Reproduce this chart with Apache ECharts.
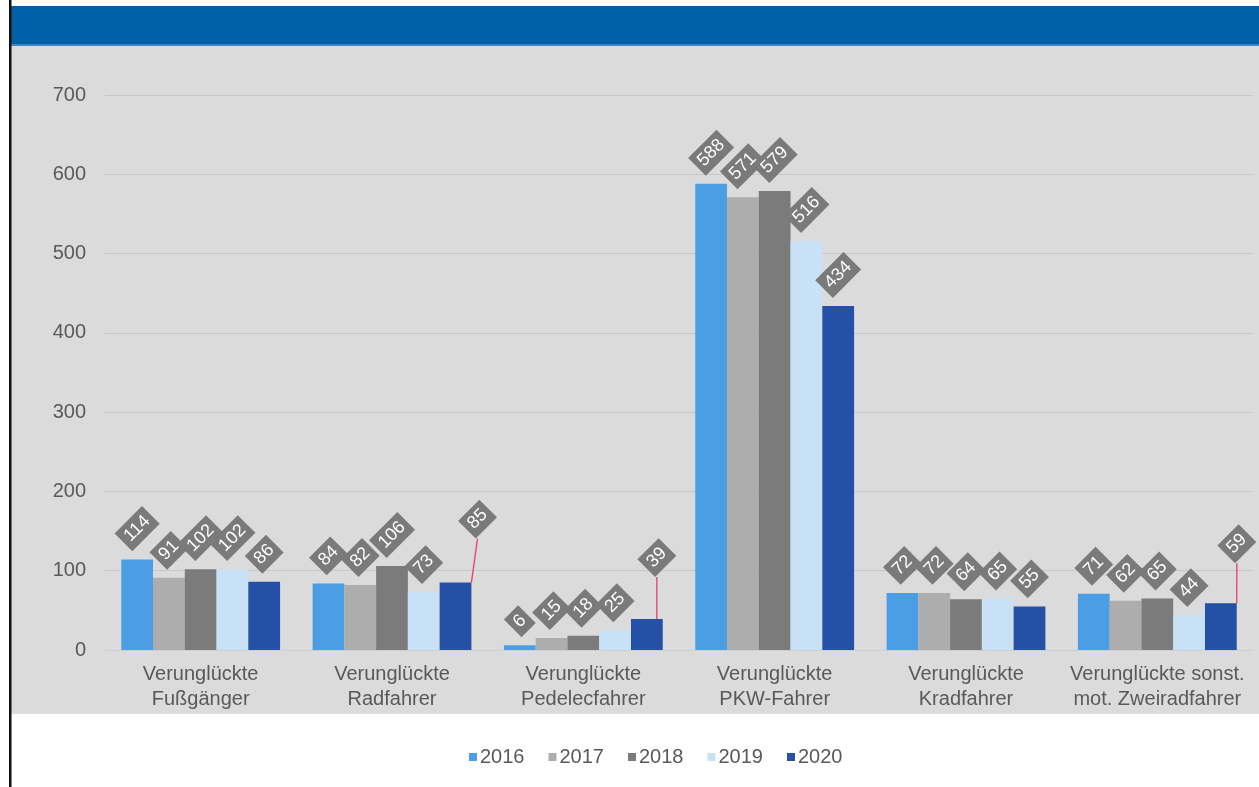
<!DOCTYPE html>
<html>
<head>
<meta charset="utf-8">
<script src="https://cdn.jsdelivr.net/npm/echarts@6/dist/echarts.min.js"></script>
<style>
html,body{margin:0;padding:0;background:#fff;}
#c{width:1259px;height:787px;}
</style>
</head>
<body>
<div id="c"></div>
<script>
const categories = ['Verunglückte\nFußgänger', 'Verunglückte\nRadfahrer', 'Verunglückte\nPedelecfahrer', 'Verunglückte\nPKW-Fahrer', 'Verunglückte\nKradfahrer', 'Verunglückte sonst.\nmot. Zweiradfahrer'];
const years = ['2016', '2017', '2018', '2019', '2020'];
const v2016 = [114, 84, 6, 588, 72, 71];
const v2017 = [91, 82, 15, 571, 72, 62];
const v2018 = [102, 106, 18, 579, 64, 65];
const v2019 = [102, 73, 25, 516, 65, 44];
const v2020 = [86, 85, 39, 434, 55, 59];
const yTicks = [0, 100, 200, 300, 400, 500, 600, 700];

const seriesValues = [v2016, v2017, v2018, v2019, v2020];
const colors = ['#4c9ee4', '#adadad', '#7b7b7b', '#c9e1f6', '#2450a5'];
const FONT = 'Liberation Sans, Arial, sans-serif';
// screen-space shifts for crowded labels (drawn with guide lines): key = seriesIndex-dataIndex
const leaderShift = { '4-1': [22, -36], '4-2': [10, -34], '4-5': [16, -32] };
const ROT = 45 * Math.PI / 180;
// label dx/dy are applied in the rotated label frame, so convert screen offsets
function toLocal(s) {
  const c = Math.cos(ROT), n = Math.sin(ROT);
  return { dx: s[0] * c - s[1] * n, dy: s[0] * n + s[1] * c };
}

const chart = echarts.init(document.getElementById('c'), null, { renderer: 'canvas' });

const series = seriesValues.map((vals, si) => ({
  name: years[si],
  type: 'bar',
  barGap: '0%',
  barCategoryGap: '17%',
  itemStyle: { color: colors[si] },
  label: {
    show: true,
    position: 'top',
    rotate: 45,
    align: 'center',
    verticalAlign: 'middle',
    color: '#ffffff',
    fontFamily: FONT,
    fontSize: 18,
    backgroundColor: '#7a7a7a',
    padding: [4, 5, 3, 5]
  },
  labelLine: { show: false, lineStyle: { color: '#e3406a', width: 1.3 } },
  labelLayout: function (p) {
    const s = leaderShift[p.seriesIndex + '-' + p.dataIndex];
    return s ? toLocal(s) : {};
  },
  data: vals.map((v, di) => {
    const item = { value: v, label: { distance: 20.5 + 3.5 * String(v).length } };
    if (leaderShift[si + '-' + di]) item.labelLine = { show: true };
    return item;
  })
}));

chart.setOption({
  animation: false,
  backgroundColor: '#ffffff',
  graphic: [
    { type: 'rect', z: -10, shape: { x: 11, y: 46, width: 1248, height: 668 }, style: { fill: '#dbdbdb' }, silent: true },
    { type: 'rect', z: -10, shape: { x: 11, y: 6, width: 1248, height: 39 }, style: { fill: '#005fa6' }, silent: true },
    { type: 'rect', z: -10, shape: { x: 11, y: 44, width: 1248, height: 2 }, style: { fill: '#3f86c2' }, silent: true },
    { type: 'rect', z: -10, shape: { x: 9, y: 0, width: 2.5, height: 787 }, style: { fill: '#111111' }, silent: true }
  ],
  grid: { left: 105, right: 6, top: 95, bottom: 137, containLabel: false },
  legend: {
    data: years,
    left: 464,
    top: 742,
    icon: 'rect',
    itemWidth: 8,
    itemHeight: 8,
    itemGap: 24,
    textStyle: { color: '#595959', fontSize: 20, fontFamily: FONT, padding: [0, 0, 0, -2] }
  },
  xAxis: {
    type: 'category',
    data: categories,
    axisTick: { show: false },
    axisLine: { show: true, lineStyle: { color: '#cfcfcf', width: 1 } },
    axisLabel: {
      color: '#595959',
      fontSize: 20,
      lineHeight: 25,
      margin: 12,
      interval: 0,
      fontFamily: FONT
    }
  },
  yAxis: {
    type: 'value',
    min: yTicks[0],
    max: yTicks[yTicks.length - 1],
    interval: yTicks[1] - yTicks[0],
    axisLine: { show: false },
    axisTick: { show: false },
    splitLine: { lineStyle: { color: '#c8c8c8', width: 1 } },
    axisLabel: {
      color: '#595959',
      fontSize: 20,
      margin: 19,
      fontFamily: FONT
    }
  },
  series: series
});
</script>
</body>
</html>
